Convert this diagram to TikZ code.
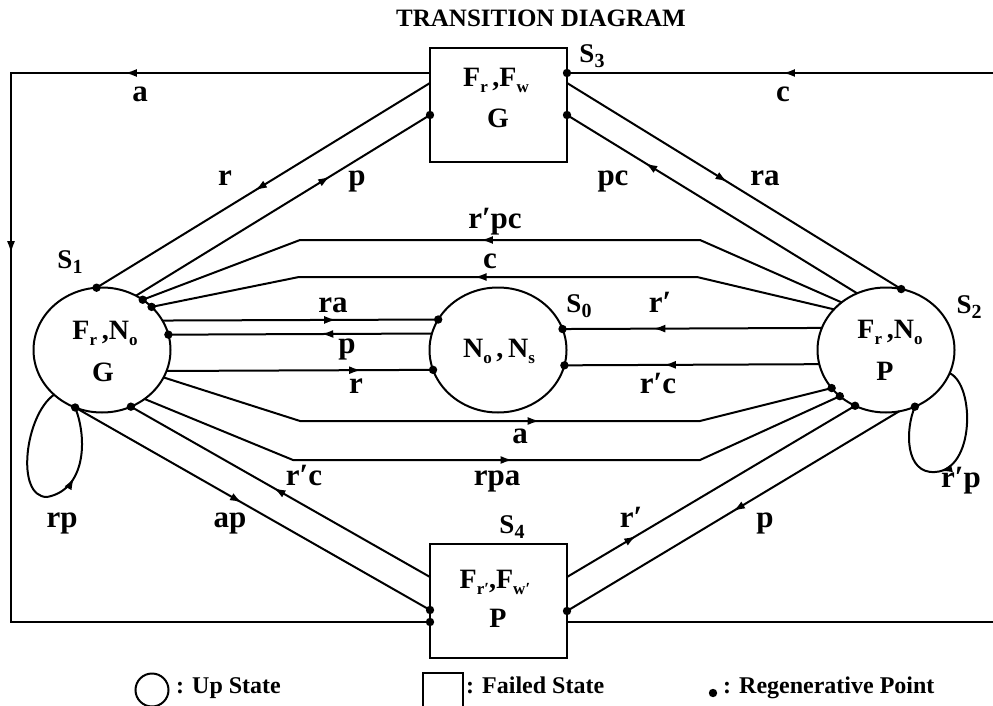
\documentclass[tikz,border=0pt]{standalone}
\usepackage{fontspec}
\setmainfont{Liberation Serif}
\usetikzlibrary{arrows.meta,decorations.markings,shapes.geometric}
\newcommand\nsb[1]{\raisebox{-6pt}{\fontsize{17}{17}\selectfont #1}}
\newcommand\ssb[1]{\raisebox{-5pt}{\fontsize{20}{20}\selectfont #1}}
\newcommand\arrtip{\arrow{Latex[length=12pt,width=8pt]}}
\begin{document}
\begin{tikzpicture}[x=1pt,y=-1pt,
  conn/.style={line width=2pt},
  midarr/.style={postaction={decorate,decoration={markings,mark=at position #1 with {\arrtip}}}},
  twoarr/.style 2 args={postaction={decorate,decoration={markings,mark=at position #1 with {\arrtip},mark=at position #2 with {\arrtip}}}},
  upst/.style={ellipse, draw, line width=2pt, minimum width=137pt, minimum height=125pt, inner sep=0pt, outer sep=0pt},
  failst/.style={rectangle, draw, line width=2pt, minimum width=137pt, minimum height=114pt, inner sep=0pt, outer sep=0pt},
  lbl/.style={font=\fontsize{31}{31}\selectfont\bfseries, inner sep=0pt, anchor=base},
  ntxt/.style={font=\fontsize{28}{28}\selectfont\bfseries, inner sep=0pt, anchor=base},
  slbl/.style={font=\fontsize{27}{27}\selectfont\bfseries, inner sep=0pt, anchor=base},
  legt/.style={font=\fontsize{24}{24}\selectfont\bfseries, inner sep=0pt, anchor=base west},
  rdot/.style={fill=black}
]
\useasboundingbox (0,0) rectangle (993,706);

% title
\node[font=\fontsize{25}{25}\selectfont\bfseries, inner sep=0pt, anchor=base] (title) at (541,27) {TRANSITION DIAGRAM};

% states
\node[upst] (s1) at (102,350) {};
\node[upst] (s0) at (498,350) {};
\node[upst] (s2) at (886,350) {};
\node[failst] (s3) at (498.5,105) {};
\node[failst] (s4) at (498.5,601) {};

% state texts
\node[ntxt] (t1a) at (105,339) {F\nsb{r}\,,N\nsb{o}};
\node[ntxt] (t1b) at (103,381) {G};
\node[ntxt] (t2a) at (890,338) {F\nsb{r}\,,N\nsb{o}};
\node[ntxt] (t2b) at (885,380) {P};
\node[ntxt] (t0a) at (499,357) {N\nsb{o}\,,\,N\nsb{s}};
\node[ntxt] (t3a) at (496,87) {F\nsb{r}\,,F\nsb{w}};
\node[ntxt] (t3b) at (498,128) {G};
\node[ntxt] (t4a) at (495,588) {F\nsb{r′},F\nsb{w′}};
\node[ntxt] (t4b) at (498,627) {P};

% state names
\node[slbl] (n1) at (70,268) {S\ssb{1}};
\node[slbl] (n0) at (579,312) {S\ssb{0}};
\node[slbl] (n2) at (969,313) {S\ssb{2}};
\node[slbl] (n3) at (592,63) {S\ssb{3}};
\node[slbl] (n4) at (512,533) {S\ssb{4}};

% ports on the boxes
\coordinate (s3la) at ([yshift=32pt]s3.west);
\coordinate (s3lb) at ([yshift=22pt]s3.west);
\coordinate (s3lc) at ([yshift=-10pt]s3.west);
\coordinate (s3ra) at ([yshift=32pt]s3.east);
\coordinate (s3rb) at ([yshift=22pt]s3.east);
\coordinate (s3rc) at ([yshift=-10pt]s3.east);
\coordinate (s4la) at ([yshift=24pt]s4.west);
\coordinate (s4lb) at ([yshift=-9pt]s4.west);
\coordinate (s4lc) at ([yshift=-21pt]s4.west);
\coordinate (s4ra) at ([yshift=24pt]s4.east);
\coordinate (s4rb) at ([yshift=-10pt]s4.east);
\coordinate (s4rc) at ([yshift=-21pt]s4.east);
\coordinate (rtop) at (993,73);
\coordinate (rbot) at (993,622);

% connectors
\draw[conn, midarr=0.525] (s3lb) -- (s1.95);
\draw[conn, midarr=0.66] (s1.58) -- (s3lc);
\draw[conn, midarr=0.48] (s3rb) -- (s2.76.4);
\draw[conn, midarr=0.73] (s2.117) -- (s3rc);
\draw[conn, midarr=0.517] (s2.133.8) -- (700,240) -- (300,240) -- (s1.51);
\draw[conn, midarr=0.527] (s2.142.1) -- (697,277) -- (299,277) -- (s1.41);
\draw[conn, midarr=0.63] (s1.26.53) -- (s0.153.47);
\draw[conn, midarr=0.42] (s0.166.42) -- (s1.13.58);
\draw[conn, midarr=0.73] (s1.342.87) -- (s0.197.13);
\draw[conn, midarr=0.65] (s2.161.06) -- (s0.18.94);
\draw[conn, midarr=0.61] (s2.192.73) -- (s0.347.27);
\draw[conn, midarr=0.564] (s1.336) -- (300,421) -- (700,421) -- (s2.215.6);
\draw[conn, midarr=0.527] (s1.311.7) -- (293,460) -- (700,460) -- (s2.225);
\draw[conn, midarr=0.523] (s4la) -- (s1.297);
\draw[conn, midarr=0.47] (s1.245.6) -- (s4lb);
\draw[conn, midarr=0.24] (s4ra) -- (s2.241.3);
\draw[conn, midarr=0.50] (s2.282.5) -- (s4rb);
\draw[conn, twoarr={0.22}{0.432}] (s3la) -- (11,73) -- (11,622) -- (s4lc);
\draw[conn] (s4rc) -- (rbot);
\draw[conn, midarr=0.493] (rtop) -- (s3ra);
\draw[conn, midarr=0.68] (s1.223.8) .. controls (25,415) and (15,497) .. (47,497) .. controls (85,490) and (88,440) .. (s1.245.6);
\draw[conn, midarr=0.57] (s2.340.8) .. controls (975,385) and (975,470) .. (935,472) .. controls (905,474) and (905,430) .. (s2.297.8);

% regenerative points
\foreach \p in {s1.95, s3lc, s2.76.4, s3rc, s1.51, s1.41, s0.153.47, s1.13.58, s0.197.13, s0.18.94, s0.347.27, s2.215.6, s2.225, s1.297, s4lb, s2.241.3, s4rb, s4lc, s3ra, s1.245.6, s2.297.8}
  \fill[rdot] (\p) circle (4.2pt);

% transition labels
\node[lbl] (la1) at (140,102) {a};
\node[lbl] (lc1) at (783,102) {c};
\node[lbl] (lr1) at (225,185) {r};
\node[lbl] (lp1) at (357,185) {p};
\node[lbl] (lpc) at (613,185) {pc};
\node[lbl] (lra1) at (765,185) {ra};
\node[lbl] (lrpc) at (495,228) {r′pc};
\node[lbl] (lc2) at (490,268) {c};
\node[lbl] (lra2) at (333,312) {ra};
\node[lbl] (lp2) at (347,353) {p};
\node[lbl] (lr2) at (356,393) {r};
\node[lbl] (lrp1) at (660,312) {r′};
\node[lbl] (lrc1) at (658,393) {r′c};
\node[lbl] (la2) at (520,443) {a};
\node[lbl] (lrpa) at (497,485) {rpa};
\node[lbl] (lrc2) at (304,485) {r′c};
\node[lbl] (lrp) at (62,527) {rp};
\node[lbl] (lap) at (230,527) {ap};
\node[lbl] (lrp2) at (631,527) {r′};
\node[lbl] (lp3) at (765,527) {p};
\node[lbl] (lrpp) at (961,487) {r′p};

% legend
\node[circle, draw, line width=2pt, minimum size=33pt, inner sep=0pt] (lgc) at (152,690) {};
\node[legt] (lgct) at (176,693) {: Up State};
\node[rectangle, draw, line width=2pt, minimum width=40pt, minimum height=40pt, inner sep=0pt] (lgr) at (443,693) {};
\node[legt] (lgrt) at (466,693) {: Failed State};
\fill[rdot] (713,693) circle (4.2pt) coordinate (lgd);
\node[legt] (lgdt) at (723,693) {: Regenerative Point};
\end{tikzpicture}
\end{document}
